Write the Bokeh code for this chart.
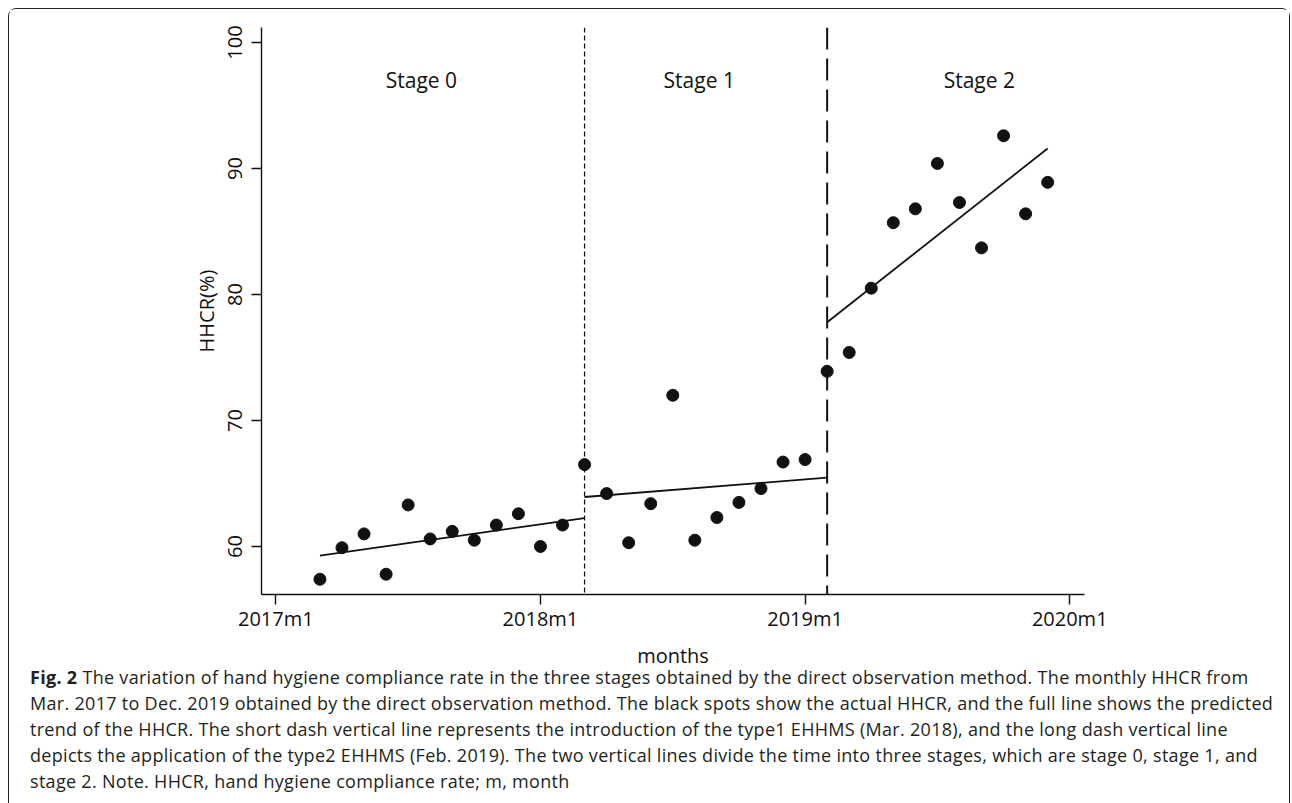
import numpy as np
from bokeh.plotting import figure
from bokeh.models import Span, FixedTicker, Div
from bokeh.layouts import column
from bokeh.core.properties import value
from bokeh.embed import file_html
from bokeh.resources import INLINE

# ---- data -------------------------------------------------------------
# month index: 0 = 2017m1 ... observations Mar 2017 .. Dec 2019
months = list(range(2, 36))
hhcr = [57.4, 59.9, 61.0, 57.8, 63.3, 60.6, 61.2, 60.5, 61.7, 62.6, 60.0, 61.7,
        66.5, 64.2, 60.3, 63.4, 72.0, 60.5, 62.3, 63.5, 64.6, 66.7, 66.9,
        73.9, 75.4, 80.5, 85.7, 86.8, 90.4, 87.3, 83.7, 92.6, 86.4, 88.9]

tick_values = [0, 12, 24, 36]
tick_labels = ["2017m1", "2018m1", "2019m1", "2020m1"]
y_ticks = [60, 70, 80, 90, 100]

interventions = [14, 25]          # Mar 2018 (type1), Feb 2019 (type2)
stage_names = ["Stage 0", "Stage 1", "Stage 2"]
stage_label_x = [6.6, 19.2, 31.9]
stage_label_y = [97.0, 97.0, 97.0]

# ---- predicted trend (OLS within each stage) ---------------------------
m = np.array(months, dtype=float)
v = np.array(hhcr, dtype=float)
bounds = [m.min()] + interventions + [m.max() + 1]
x0, y0, x1, y1 = [], [], [], []
for i in range(3):
    lo, hi = bounds[i], bounds[i + 1]
    sel = (m >= lo) & (m < hi)
    b, a = np.polyfit(m[sel], v[sel], 1)
    end = hi if i < 2 else m.max()
    x0.append(lo); x1.append(end)
    y0.append(a + b * lo); y1.append(a + b * end)

FONT = "Open Sans"
INK = "#111111"

p = figure(output_backend="svg", toolbar_location=None,
           frame_width=823, frame_height=567,
           min_border_left=252, min_border_right=205,
           min_border_top=18, min_border_bottom=71,
           x_range=(-0.65, 36.67), y_range=(56.19, 101.19))
p.outline_line_color = None
p.xgrid.visible = False
p.ygrid.visible = False
p.background_fill_color = "white"
p.border_fill_color = "white"

for loc, dash, lw in zip(interventions, ["5 3", "22 9"], [1.3, 2.0]):
    p.add_layout(Span(location=loc, dimension="height", line_color=INK,
                      line_dash=dash, line_width=lw))

p.segment(x0=x0, y0=y0, x1=x1, y1=y1, line_color=INK, line_width=1.8)
p.scatter(x=months, y=hhcr, size=12, color=INK)

p.text(x=stage_label_x, y=stage_label_y, text=stage_names,
       text_font=value(FONT), text_font_size="21px", text_color=INK,
       text_align="center", text_baseline="middle")

xa = p.xaxis[0]
xa.ticker = FixedTicker(ticks=tick_values)
xa.major_label_overrides = {t: l for t, l in zip(tick_values, tick_labels)}
xa.axis_label = "months"

ya = p.yaxis[0]
ya.ticker = FixedTicker(ticks=y_ticks)
ya.axis_label = "HHCR(%)"
ya.major_label_orientation = "vertical"

for ax in (xa, ya):
    ax.minor_tick_line_color = None
    ax.major_tick_in = 0
    ax.major_tick_out = 10
    ax.axis_line_width = 1.4
    ax.major_tick_line_width = 1.4
    ax.axis_line_color = INK
    ax.major_tick_line_color = INK
    ax.major_label_text_font = FONT
    ax.major_label_text_font_size = "20px"
    ax.major_label_text_color = INK
    ax.axis_label_text_font = FONT
    ax.axis_label_text_font_size = "20px"
    ax.axis_label_text_font_style = "normal"
    ax.axis_label_text_color = INK
xa.major_label_standoff = 0
xa.axis_label_standoff = 7
ya.major_label_standoff = 9
ya.axis_label_standoff = 6

caption_lines = [
    "<b>Fig. 2</b> The variation of hand hygiene compliance rate in the three stages obtained by the direct observation method. The monthly HHCR from",
    "Mar. 2017 to Dec. 2019 obtained by the direct observation method. The black spots show the actual HHCR, and the full line shows the predicted",
    "trend of the HHCR. The short dash vertical line represents the introduction of the type1 EHHMS (Mar. 2018), and the long dash vertical line",
    "depicts the application of the type2 EHHMS (Feb. 2019). The two vertical lines divide the time into three stages, which are stage 0, stage 1, and",
    "stage 2. Note. HHCR, hand hygiene compliance rate; m, month",
]
html = ("<div style=\"font-family:'Open Sans';font-size:18px;letter-spacing:0.3px;"
        "line-height:26px;white-space:nowrap;padding-left:16px;margin-top:-12px;"
        "color:#231f20\">" + "<br>".join(caption_lines) + "</div>")
cap = Div(text=html, width=1278, height=135)

layout = column(p, cap, spacing=0,
                styles={"border": "1.5px solid #222", "border-radius": "8px",
                        "margin-left": "8px", "margin-top": "8px",
                        "width": "1280px", "box-sizing": "content-box"})

open("out.html", "w").write(file_html(layout, INLINE))
